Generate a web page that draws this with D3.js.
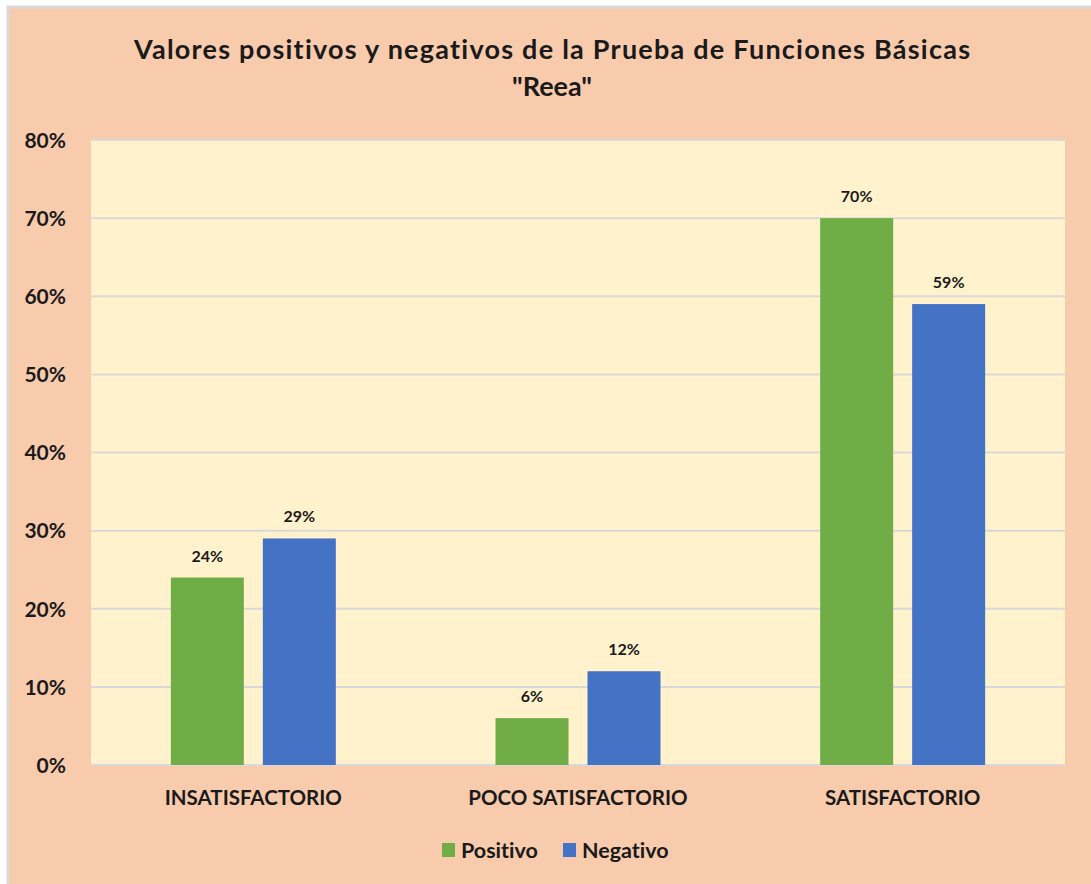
<!DOCTYPE html>
<html>
<head>
<meta charset="utf-8">
<script src="https://cdn.jsdelivr.net/npm/d3@7"></script>
<style>
  body { margin: 0; background: #ffffff; }
  text { font-family: Lato, "Open Sans", sans-serif; font-weight: bold; fill: #1a1a1a; font-variant-ligatures: none; }
</style>
</head>
<body>
<div id="chart"></div>
<script>
// data
var categories = ["INSATISFACTORIO", "POCO SATISFACTORIO", "SATISFACTORIO"];
var seriesNames = ["Positivo", "Negativo"];
var positivo = [0.24, 0.06, 0.70];
var negativo = [0.29, 0.12, 0.59];
var yTicks = [0, 0.1, 0.2, 0.3, 0.4, 0.5, 0.6, 0.7, 0.8];
var titleLines = ["Valores positivos y negativos de la Prueba de Funciones Básicas", "\"Reea\""];
var colors = ["#70AD47", "#4472C4"];

var rows = categories.map(function (c, i) {
  return { cat: c, values: [positivo[i], negativo[i]] };
});

var W = 1091, H = 884;
var margin = { top: 140, right: 26, bottom: 119, left: 91 },
  width = W - margin.left - margin.right,
  height = H - margin.top - margin.bottom;

var root = d3.select("#chart")
  .append("svg")
  .attr("width", W)
  .attr("height", H);

// chart background + border
root.append("rect")
  .attr("x", 8).attr("y", 7)
  .attr("width", W).attr("height", H)
  .attr("fill", "#F8CBAD")
  .attr("stroke", "#D9D9D9")
  .attr("stroke-width", 3);

// title
root.append("g").selectAll("text")
  .data(titleLines)
  .enter()
  .append("text")
  .attr("x", 552)
  .attr("y", function (d, i) { return 59 + i * 37 })
  .attr("text-anchor", "middle")
  .style("font-size", "27px")
  .each(function (d, i) {
    // first line is stretched to the width of the original title
    if (i == 0) d3.select(this).attr("textLength", 836).attr("lengthAdjust", "spacing");
  })
  .text(function (d) { return d });

var svg = root.append("g")
  .attr("transform", "translate(" + margin.left + "," + margin.top + ")");

// plot area
svg.append("rect")
  .attr("width", width)
  .attr("height", height)
  .attr("fill", "#FFF2CC");

var x0 = d3.scaleBand()
  .domain(categories)
  .range([0, width])
  .padding(0);

var x1 = d3.scaleBand()
  .domain(seriesNames)
  .range([0, x0.bandwidth()])
  .paddingInner(0.2065)
  .paddingOuter(0.868);

var y = d3.scaleLinear()
  .domain([0, 0.8])
  .range([height, 0]);

// gridlines
svg.append("g")
  .selectAll("line")
  .data(yTicks)
  .enter()
  .append("line")
  .attr("x1", 0)
  .attr("x2", width)
  .attr("y1", function (d) { return y(d) })
  .attr("y2", function (d) { return y(d) })
  .attr("stroke", "#D9D9D9")
  .attr("stroke-width", 2);

// y axis
var yAxis = svg.append("g")
  .attr("transform", "translate(-22,0)")
  .call(d3.axisLeft(y).tickValues(yTicks).tickFormat(d3.format(".0%")).tickSize(0));
yAxis.select(".domain").remove();
yAxis.selectAll("text")
  .style("font-size", "21px")
  .attr("dy", "0.35em");

// bars
var groups = svg.append("g")
  .selectAll("g")
  .data(rows)
  .enter()
  .append("g")
  .attr("transform", function (d) { return "translate(" + x0(d.cat) + ",0)" });

groups.selectAll("rect")
  .data(function (d) { return d.values.map(function (v, i) { return { key: seriesNames[i], value: v, i: i } }) })
  .enter()
  .append("rect")
  .attr("x", function (d) { return x1(d.key) })
  .attr("y", function (d) { return y(d.value) })
  .attr("width", x1.bandwidth())
  .attr("height", function (d) { return height - y(d.value) })
  .attr("fill", function (d) { return colors[d.i] });

// data labels
groups.selectAll("text")
  .data(function (d) { return d.values.map(function (v, i) { return { key: seriesNames[i], value: v } }) })
  .enter()
  .append("text")
  .attr("x", function (d) { return x1(d.key) + x1.bandwidth() / 2 })
  .attr("y", function (d) { return y(d.value) - 16 })
  .attr("text-anchor", "middle")
  .style("font-size", "16px")
  .text(function (d) { return d3.format(".0%")(d.value) });

// x axis labels
var xAxis = svg.append("g")
  .attr("transform", "translate(0," + height + ")")
  .call(d3.axisBottom(x0).tickSize(0).tickPadding(25));
xAxis.select(".domain").remove();
xAxis.selectAll("text")
  .style("font-size", "20.5px");

// legend
var legend = root.append("g")
  .attr("transform", "translate(442,850)");
var legendX = [0, 121];
var item = legend.selectAll("g")
  .data(seriesNames)
  .enter()
  .append("g")
  .attr("transform", function (d, i) { return "translate(" + legendX[i] + ",0)" });
item.append("rect")
  .attr("x", 0).attr("y", -7)
  .attr("width", 13).attr("height", 14)
  .attr("fill", function (d, i) { return colors[i] });
item.append("text")
  .attr("x", 19)
  .attr("y", 0)
  .attr("dy", "0.35em")
  .style("font-size", "21.5px")
  .text(function (d) { return d });
</script>
</body>
</html>
